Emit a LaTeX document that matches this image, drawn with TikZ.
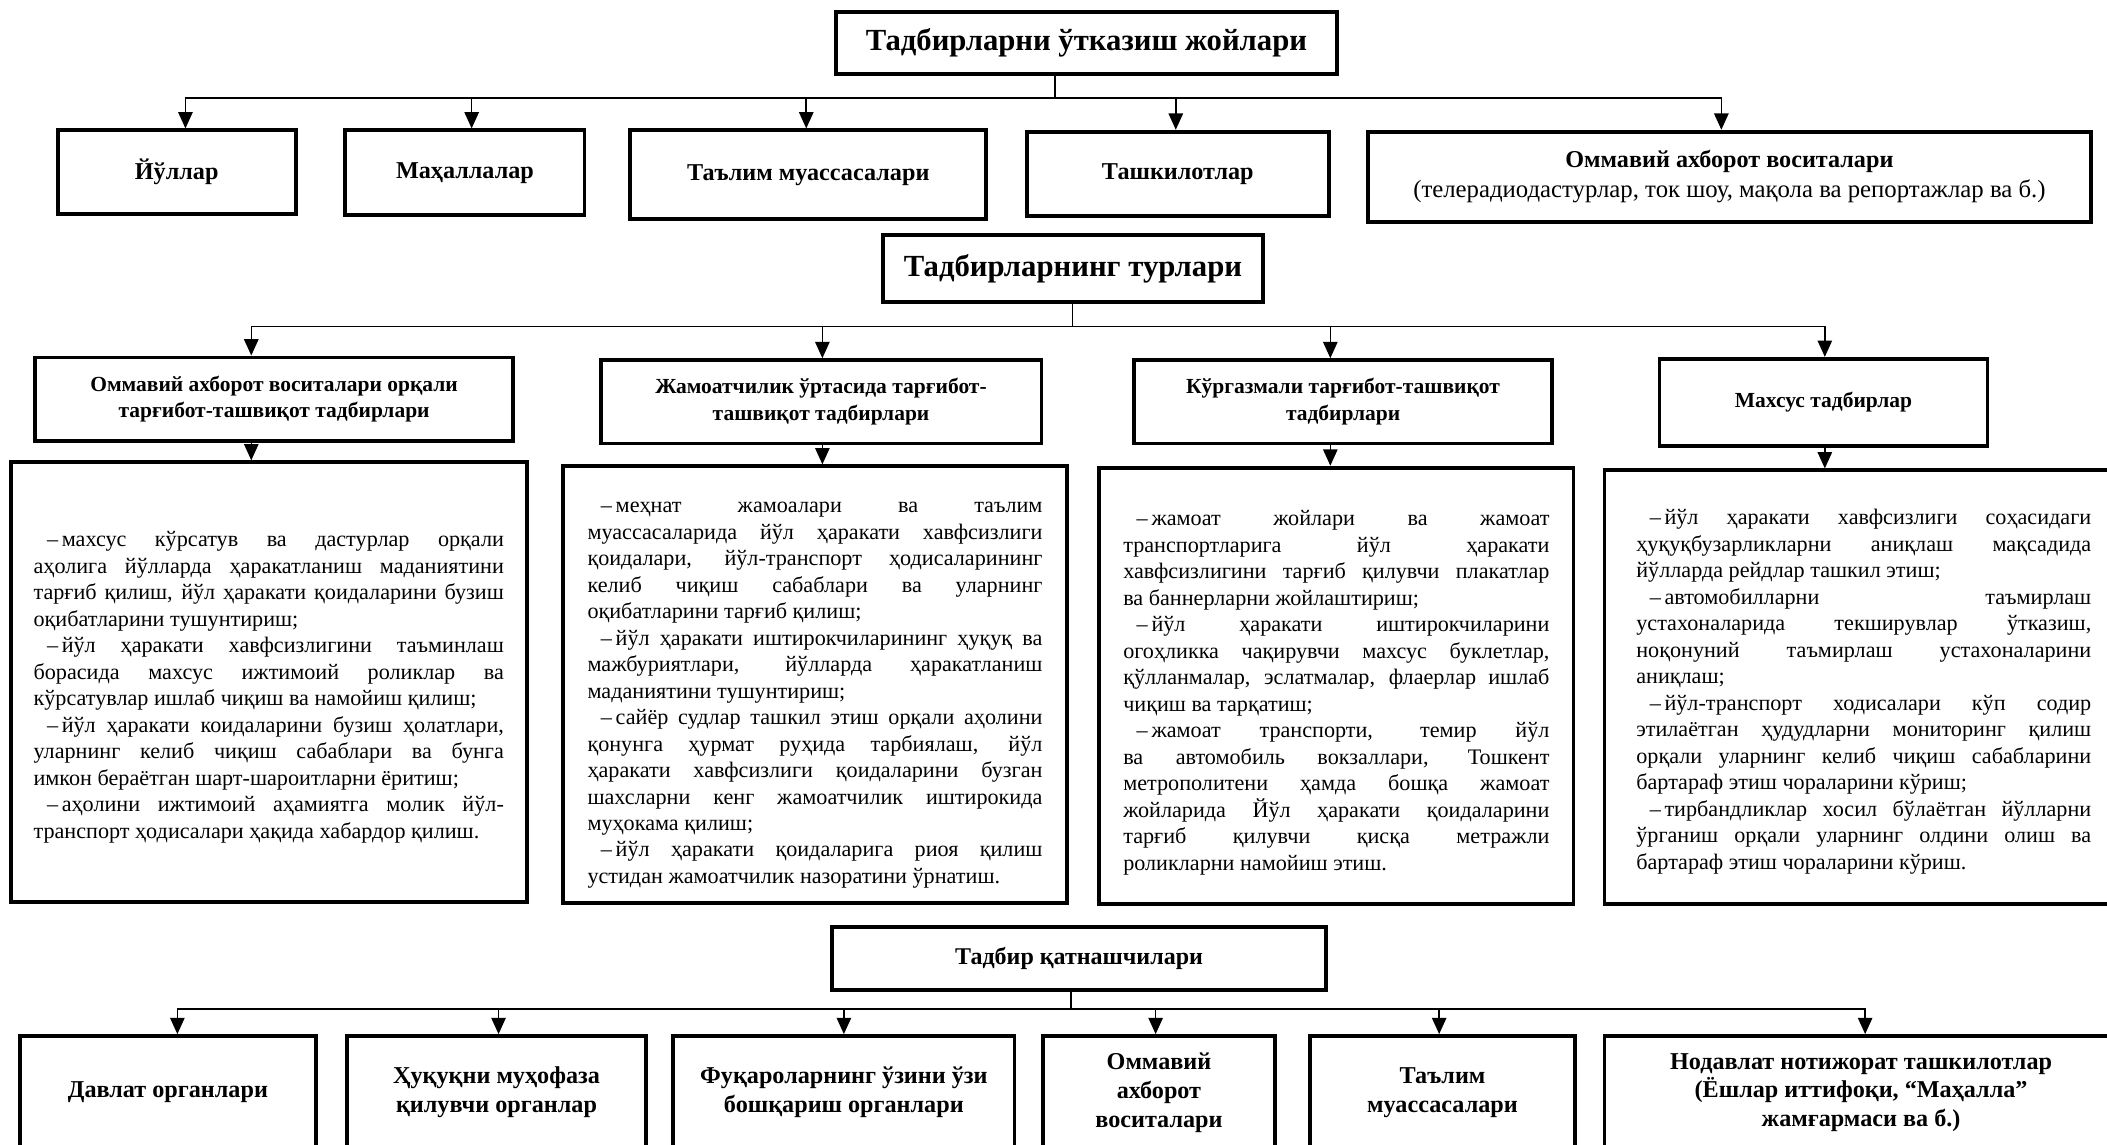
\documentclass[tikz,border=0pt]{standalone}
\usepackage{fontspec}
\setmainfont{Liberation Serif}
\usetikzlibrary{arrows.meta,calc}
\newcommand\dtxt[3]{\begin{minipage}{#1}\vspace*{#3}\fontsize{11.55pt}{13.8pt}\selectfont\setlength{\parindent}{0pt}\setlength{\parskip}{0pt}\tolerance=10000\hbadness=10000\hyphenpenalty=10000 #2\end{minipage}}
\newcommand\ind{\hspace*{7pt}–\,}
\begin{document}
\begin{tikzpicture}[x=0.7pt,y=-0.7pt,
  box/.style={draw, line width=2pt, align=center, inner sep=1pt},
  sz/.style 2 args={minimum width=#1*0.7pt, minimum height=#2*0.7pt},
  ftitle/.style={font=\bfseries\fontsize{16pt}{19pt}\selectfont},
  fthree/.style={font=\bfseries\fontsize{12.5pt}{15pt}\selectfont},
  frow/.style={font=\bfseries\fontsize{12.6pt}{15.4pt}\selectfont},
  fhead/.style={font=\bfseries\fontsize{11.2pt}{14pt}\selectfont},
  fbot/.style={font=\bfseries\fontsize{12.6pt}{15pt}\selectfont},
  conn/.style={line width=0.8pt},
  arr/.style={line width=0.8pt,-{Triangle[width=7.5pt,length=8.5pt]}},
]
\useasboundingbox (0,0) rectangle (1568,852);
\clip (0,0) rectangle (1568,852);

% ---------- Level 1 ----------
\node[box, sz={373}{46}, ftitle] (t1) at (808.5,32) {Тадбирларни ўтказиш жойлари};
\node[box, sz={177}{62}, frow] (r1a) at (131.5,128) {Йўллар};
\node[box, sz={178}{63}, frow] (r1b) at (346,128.5) {Маҳаллалар};
\node[box, sz={265}{66}, frow] (r1c) at (601.5,130) {Таълим муассасалари};
\node[box, sz={225}{63}, frow] (r1d) at (876.5,129.5) {Ташкилотлар};
\node[box, sz={538}{67}, frow] (r1e) at (1287,131.5) {Оммавий ахборот воситалари\\{\mdseries\fontsize{12.9pt}{15.4pt}\selectfont(телерадиодастурлар, ток шоу, мақола ва репортажлар ва б.)}};

\coordinate (j1) at (785,73);
\coordinate (c1a) at (138,0);
\coordinate (c1b) at (351,0);
\coordinate (c1c) at (600,0);
\coordinate (c1d) at (875,0);
\coordinate (c1e) at (1281,0);
\draw[conn] (t1.south -| j1) -- (j1);
\draw[arr] (j1) -| (r1a.north -| c1a);
\draw[arr] (j1) -| (r1b.north -| c1b);
\draw[arr] (j1) -| (r1c.north -| c1c);
\draw[arr] (j1) -| (r1d.north -| c1d);
\draw[arr] (j1) -| (r1e.north -| c1e);

% ---------- Level 2 ----------
\node[box, sz={283}{50}, ftitle] (t2) at (798.5,200) {Тадбирларнинг турлари};
\node[box, sz={356}{62}, fhead] (h1) at (204,297) {Оммавий ахборот воситалари орқали\\тарғибот-ташвиқот тадбирлари};
\node[box, sz={328}{62}, fhead] (h2) at (611,299) {Жамоатчилик ўртасида тарғибот-\\ташвиқот тадбирлари};
\node[box, sz={311}{62}, fhead] (h3) at (999.5,299) {Кўргазмали тарғибот-ташвиқот\\тадбирлари};
\node[box, sz={244}{65}, fhead] (h4) at (1357,299.5) {Махсус тадбирлар};

\coordinate (j2) at (798,243);
\coordinate (c2a) at (187,0);
\coordinate (c2b) at (612,0);
\coordinate (c2c) at (990,0);
\coordinate (c2d) at (1358,0);
\draw[conn] (t2.south -| j2) -- (j2);
\draw[arr] (j2) -| (h1.north -| c2a);
\draw[arr] (j2) -| (h2.north -| c2b);
\draw[arr] (j2) -| (h3.north -| c2c);
\draw[arr] (j2) -| (h4.north -| c2d);

\node[box, sz={384}{327}, inner sep=0pt] (dA) at (200,507.5) {\dtxt{245pt}{%
\ind махсус кўрсатув ва дастурлар орқали\linebreak аҳолига йўлларда ҳаракатланиш маданиятини\linebreak тарғиб қилиш, йўл ҳаракати қоидаларини бузиш\linebreak оқибатларини тушунтириш;\par
\ind йўл ҳаракати хавфсизлигини таъминлаш\linebreak борасида махсус ижтимоий роликлар ва\linebreak кўрсатувлар ишлаб чиқиш ва намойиш қилиш;\par
\ind йўл ҳаракати коидаларини бузиш ҳолатлари,\linebreak уларнинг келиб чиқиш сабаблари ва бунга\linebreak имкон бераётган шарт-шароитларни ёритиш;\par
\ind аҳолини ижтимоий аҳамиятга молик йўл-\linebreak транспорт ҳодисалари ҳақида хабардор қилиш.\par}{5.6pt}};

\node[box, sz={375}{325}, inner sep=0pt] (dB) at (606.5,509.5) {\dtxt{237pt}{%
\ind меҳнат жамоалари ва таълим\linebreak муассасаларида йўл ҳаракати хавфсизлиги\linebreak қоидалари, йўл-транспорт ҳодисаларининг\linebreak келиб чиқиш сабаблари ва уларнинг\linebreak оқибатларини тарғиб қилиш;\par
\ind йўл ҳаракати иштирокчиларининг ҳуқуқ ва\linebreak мажбуриятлари, йўлларда ҳаракатланиш\linebreak маданиятини тушунтириш;\par
\ind сайёр судлар ташкил этиш орқали аҳолини\linebreak қонунга ҳурмат руҳида тарбиялаш, йўл\linebreak ҳаракати хавфсизлиги қоидаларини бузган\linebreak шахсларни кенг жамоатчилик иштирокида\linebreak муҳокама қилиш;\par
\ind йўл ҳаракати қоидаларига риоя қилиш\linebreak устидан жамоатчилик назоратини ўрнатиш.\par}{11pt}};

\node[box, sz={353}{325}, inner sep=0pt] (dC) at (994.5,510.5) {\dtxt{222pt}{%
\ind жамоат жойлари ва жамоат\linebreak транспортларига йўл ҳаракати\linebreak хавфсизлигини тарғиб қилувчи плакатлар\linebreak ва баннерларни жойлаштириш;\par
\ind йўл ҳаракати иштирокчиларини\linebreak огоҳликка чақирувчи махсус буклетлар,\linebreak қўлланмалар, эслатмалар, флаерлар ишлаб\linebreak чиқиш ва тарқатиш;\par
\ind жамоат транспорти, темир йўл\linebreak ва автомобиль вокзаллари, Тошкент\linebreak метрополитени ҳамда бошқа жамоат\linebreak жойларида Йўл ҳаракати қоидаларини\linebreak тарғиб қилувчи қисқа метражли\linebreak роликларни намойиш этиш.\par}{7pt}};

\node[box, sz={386}{323}, inner sep=0pt] (dD) at (1387,511.5) {\dtxt{237pt}{%
\ind йўл ҳаракати хавфсизлиги соҳасидаги\linebreak ҳуқуқбузарликларни аниқлаш мақсадида\linebreak йўлларда рейдлар ташкил этиш;\par
\ind автомобилларни таъмирлаш\linebreak устахоналарида текширувлар ўтказиш,\linebreak ноқонуний таъмирлаш устахоналарини\linebreak аниқлаш;\par
\ind йўл-транспорт ходисалари кўп содир\linebreak этилаётган ҳудудларни мониторинг қилиш\linebreak орқали уларнинг келиб чиқиш сабабларини\linebreak бартараф этиш чораларини кўриш;\par
\ind тирбандликлар хосил бўлаётган йўлларни\linebreak ўрганиш орқали уларнинг олдини олиш ва\linebreak бартараф этиш чораларини кўриш.\par}{4.5pt}};

\draw[arr] (h1.south -| c2a) -- (dA.north -| c2a);
\draw[arr] (h2.south -| c2b) -- (dB.north -| c2b);
\draw[arr] (h3.south -| c2c) -- (dC.north -| c2c);
\draw[arr] (h4.south -| c2d) -- (dD.north -| c2d);

% ---------- Level 3 ----------
\node[box, sz={368}{47}, fthree] (t3) at (803,713.5) {Тадбир қатнашчилари};
\node[box, sz={220}{84}, fbot] (b1) at (125,813) {Давлат органлари};
\node[box, sz={223}{84}, fbot] (b2) at (369.5,813) {Ҳуқуқни муҳофаза\\қилувчи органлар};
\node[box, sz={254}{84}, fbot] (b3) at (628,813) {Фуқароларнинг ўзини ўзи\\бошқариш органлари};
\node[box, sz={173}{84}, fbot] (b4) at (862.5,813) {Оммавий\\ахборот\\воситалари};
\node[box, sz={197}{84}, fbot] (b5) at (1073.5,813) {Таълим\\муассасалари};
\node[box, sz={382}{84}, fbot] (b6) at (1385,813) {Нодавлат нотижорат ташкилотлар\\(Ёшлар иттифоқи, “Маҳалла”\\жамғармаси ва б.)};

\coordinate (j3) at (797,751);
\coordinate (c3a) at (132,0);
\coordinate (c3b) at (371,0);
\coordinate (c3c) at (628,0);
\coordinate (c3d) at (860,0);
\coordinate (c3e) at (1071,0);
\coordinate (c3f) at (1388,0);
\draw[conn] (t3.south -| j3) -- (j3);
\draw[arr] (j3) -| (b1.north -| c3a);
\draw[arr] (j3) -| (b2.north -| c3b);
\draw[arr] (j3) -| (b3.north -| c3c);
\draw[arr] (j3) -| (b4.north -| c3d);
\draw[arr] (j3) -| (b5.north -| c3e);
\draw[arr] (j3) -| (b6.north -| c3f);
\end{tikzpicture}
\end{document}
